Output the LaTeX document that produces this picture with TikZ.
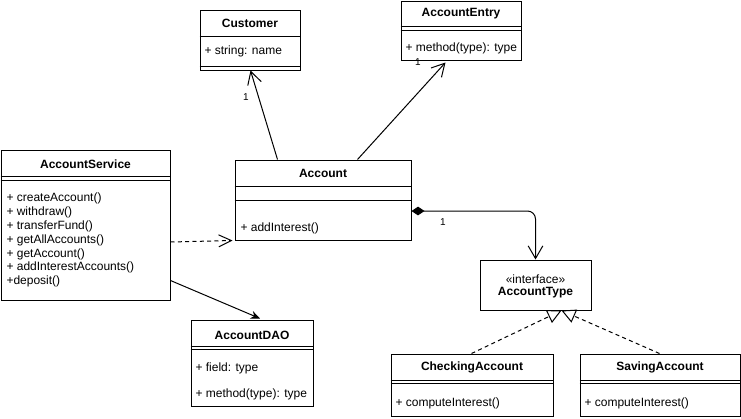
\documentclass[tikz,border=0pt]{standalone}
\usepackage{fontspec}
\setmainfont{Liberation Sans}
\usetikzlibrary{arrows.meta,fit,calc}
\begin{document}
\begin{tikzpicture}[x=0.75pt,y=-0.75pt,line width=0.75pt,
  cls/.style={draw,inner sep=0pt},
  hdr/.style={font=\bfseries\fontsize{9}{11}\selectfont,inner sep=0pt},
  mem/.style={font=\fontsize{9}{11}\selectfont,anchor=west,inner sep=0pt},
  plain/.style={font=\fontsize{9}{11}\selectfont,inner sep=0pt},
  mult/.style={font=\fontsize{7.5}{9}\selectfont,inner sep=0pt},
  openarr/.style={-{Straight Barb[length=9.5pt,width=10.5pt]}},
  dep/.style={dash pattern=on 3pt off 2.5pt,-{Straight Barb[length=9.5pt,width=9pt]}},
  real/.style={dash pattern=on 3pt off 2.5pt,-{Triangle[open,length=10.5pt,width=10.5pt]}},
  assoc/.style={-{Stealth[length=7pt,width=6pt]}},
  comp/.style={{Diamond[length=9.75pt,width=6.5pt]}-{Straight Barb[length=9.5pt,width=11pt]},rounded corners=6pt}
]
\useasboundingbox (0,0) rectangle (741,418);

% Customer
\node[cls,fit={(200,10) (300,70)}] (cust) {};
\draw (cust.west |- 0,36) -- (cust.east |- 0,36);
\draw (cust.west |- 0,66) -- (cust.east |- 0,66);
\node[hdr] (custH) at (250,23.5) {Customer};
\node[mem] (custA) at (204,51) {+ string: name};

% AccountEntry
\node[cls,fit={(401,1) (521,60)}] (entry) {};
\draw (entry.west |- 0,26) -- (entry.east |- 0,26);
\draw (entry.west |- 0,30) -- (entry.east |- 0,30);
\node[hdr] (entryH) at (461,14) {AccountEntry};
\node[mem] (entryM) at (405,48) {+ method(type): type};

% AccountService
\node[cls,fit={(1,150) (170,300)}] (svc) {};
\draw (svc.west |- 0,176) -- (svc.east |- 0,176);
\draw (svc.west |- 0,180) -- (svc.east |- 0,180);
\node[hdr] (svcH) at (85.5,164) {AccountService};
\node[mem] (svc1) at (6,198.3) {+ createAccount()};
\node[mem] (svc2) at (6,212.2) {+ withdraw()};
\node[mem] (svc3) at (6,226.1) {+ transferFund()};
\node[mem] (svc4) at (6,240) {+ getAllAccounts()};
\node[mem] (svc5) at (6,253.9) {+ getAccount()};
\node[mem] (svc6) at (6,267.8) {+ addInterestAccounts()};
\node[mem] (svc7) at (6,281.7) {+deposit()};

% Account
\node[cls,fit={(235,160) (411,240)}] (acct) {};
\draw (acct.west |- 0,186) -- (acct.east |- 0,186);
\draw (acct.west |- 0,200) -- (acct.east |- 0,200);
\node[hdr] (acctH) at (323,173.3) {Account};
\node[mem] (acctM) at (240,228.3) {+ addInterest()};

% AccountType
\node[cls,fit={(480,260) (591,310)}] (atype) {};
\node[plain] (atypeS) at (535.5,279) {«interface»};
\node[hdr] (atypeH) at (535.5,293) {AccountType};

% CheckingAccount
\node[cls,fit={(391,354) (553,416.5)}] (chk) {};
\draw (chk.west |- 0,380) -- (chk.east |- 0,380);
\draw (chk.west |- 0,383) -- (chk.east |- 0,383);
\node[hdr] (chkH) at (472,367.7) {CheckingAccount};
\node[mem] (chkM) at (395,403) {+ computeInterest()};

% SavingAccount
\node[cls,fit={(580,354) (740,416.5)}] (sav) {};
\draw (sav.west |- 0,380) -- (sav.east |- 0,380);
\draw (sav.west |- 0,383) -- (sav.east |- 0,383);
\node[hdr] (savH) at (660,367.7) {SavingAccount};
\node[mem] (savM) at (584,403) {+ computeInterest()};

% AccountDAO
\node[cls,fit={(191,320) (313,406.5)}] (dao) {};
\draw (dao.west |- 0,346) -- (dao.east |- 0,346);
\draw (dao.west |- 0,349) -- (dao.east |- 0,349);
\node[hdr] (daoH) at (252,335) {AccountDAO};
\node[mem] (daoF) at (195,368) {+ field: type};
\node[mem] (daoM) at (195,394) {+ method(type): type};

% Connectors
\draw[openarr] ($(acct.north west)+(43,0)$) -- ($(cust.south west)+(51,0)$);
\node[mult] (m1) at (246,97) {1};
\draw[openarr] ($(acct.north west)+(123,0)$) -- ($(entry.south west)+(45,2)$);
\node[mult] (m2) at (418,62) {1};
\draw[dep] ($(svc.south east)+(0,-58.5)$) -- ($(acct.south west)+(-2,0)$);
\draw[assoc] ($(svc.south east)+(0,-20)$) -- ($(dao.north)+(8,-1)$);
\draw[comp] ($(acct.east)+(0,11)$) -- (atype.north |- 0,211) -- (atype.north);
\node[mult] (m3) at (443,222) {1};
\draw[real] ($(chk.north west)+(81,0)$) -- ($(atype.south west)+(82,0)$);
\draw[real] ($(sav.north west)+(80,0)$) -- ($(atype.south west)+(82,0)$);
\end{tikzpicture}
\end{document}
